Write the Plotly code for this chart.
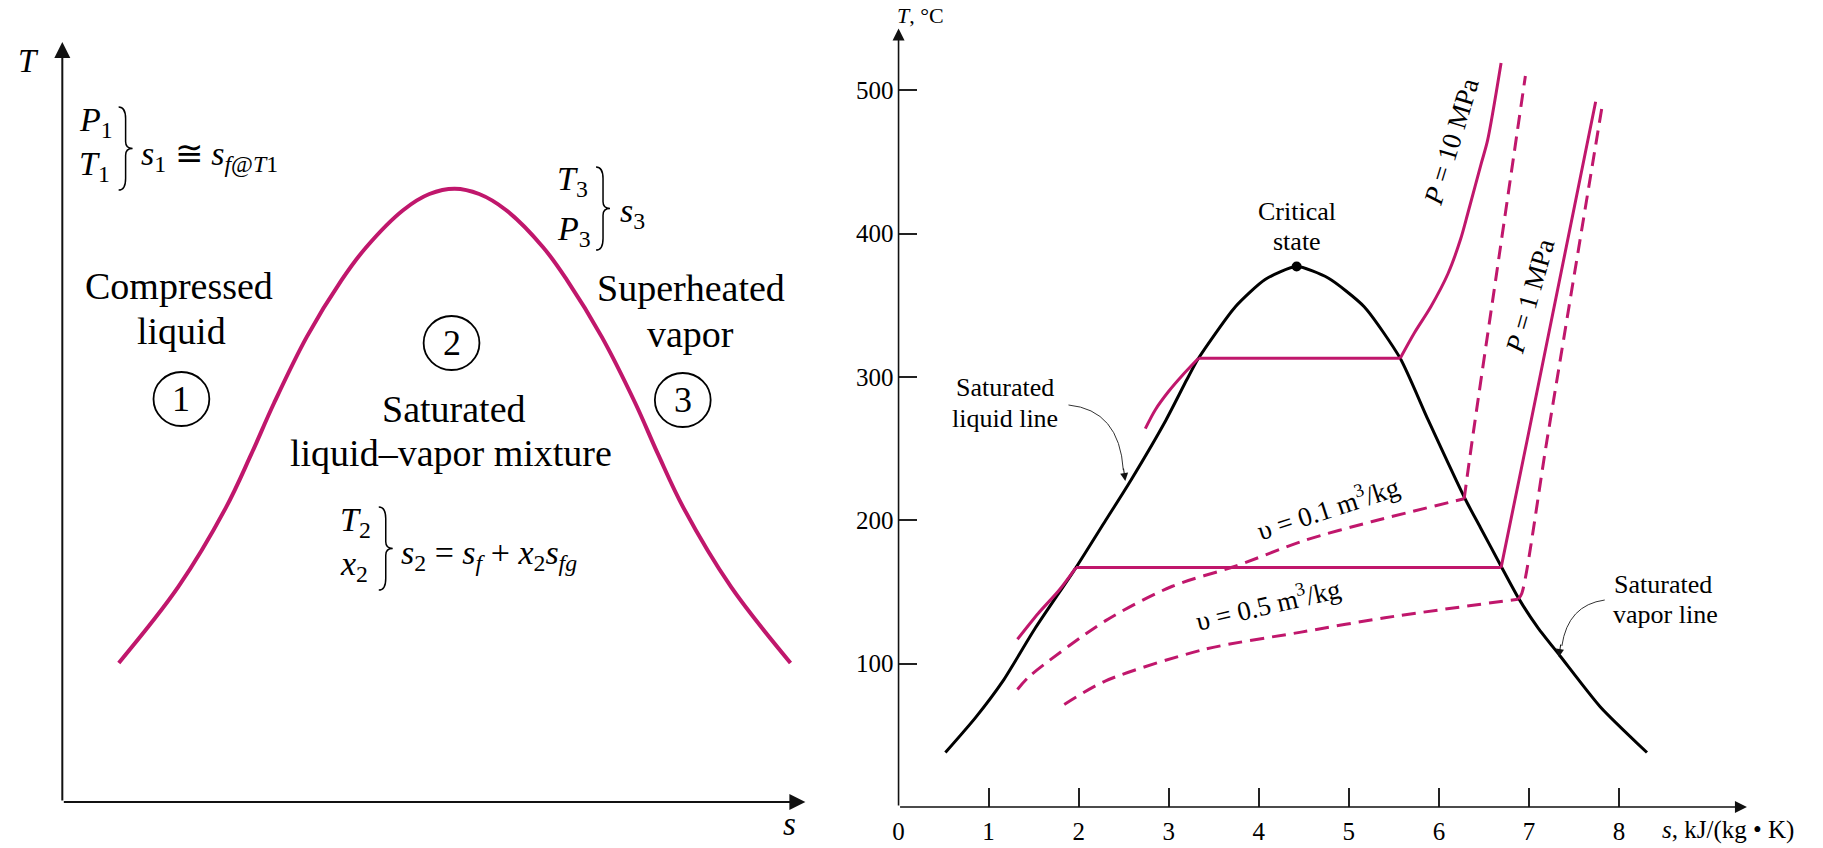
import plotly.graph_objects as go

W, H = 1823, 848
SERIF = "Liberation Serif, Times New Roman, serif"
MAG = "#C0176C"


def px(x):
    return x / W


def py(y):
    return 1 - y / H


# ---- left sketch: generic T-s bell (axis units 0..10) ----
bell_s = [0.76, 1.56, 2.20, 2.54, 2.85, 3.29, 3.76, 4.09, 4.59, 4.94, 5.28,
          5.61, 5.97, 6.47, 6.79, 7.26, 7.71, 8.02, 8.36, 9.00, 9.80]
bell_T = [1.83, 2.83, 3.87, 4.57, 5.25, 6.12, 6.87, 7.30, 7.79, 8.00, 8.07,
          8.00, 7.79, 7.30, 6.87, 6.12, 5.25, 4.57, 3.87, 2.83, 1.83]

# ---- right chart: water T-s diagram ----
dome_s = [0.52, 0.85, 1.16, 1.52, 1.97, 2.30, 2.58, 2.97, 3.20, 3.33, 3.74, 4.07, 4.42,
          4.77, 5.17, 5.57, 5.88, 6.29, 6.46, 6.69, 6.89, 7.10, 7.35, 7.79, 8.31]
dome_T = [38, 62, 88, 125, 167, 200, 228, 270, 298, 313, 349, 368, 377,
          369, 349, 313, 270, 215, 195, 168, 145, 125, 105, 70, 38]
crit_s, crit_T = [4.42], [377]

# isobars (compressed liquid -> saturated mixture -> superheated vapour)
p10_s = [2.74, 2.85, 3.00, 3.15, 3.33, 5.57, 5.73, 5.91, 6.10, 6.24, 6.32, 6.47, 6.54, 6.69]
p10_T = [264, 277, 290, 301, 313, 313, 331, 349, 372, 396, 414, 449, 465, 519]
p10_corners = [4, 5]

p1_s = [1.32, 1.55, 1.78, 1.97, 6.69, 6.98, 7.74]
p1_T = [117, 135, 151, 167, 167, 256, 492]
p1_corners = [3, 4]

# isochores
v01_s = [1.32, 1.45, 2.30, 3.04, 3.74, 4.51, 5.25, 6.28, 6.37, 6.67, 6.96]
v01_T = [82, 91, 130, 154, 168, 186, 199, 215, 256, 385, 510]
v01_corners = [7]

v05_s = [1.84, 2.30, 3.40, 4.47, 5.40, 6.88, 6.92, 7.20, 7.82]
v05_T = [71.5, 88, 110, 122, 132, 145, 149, 256, 492]
v05_corners = [5]

s_ticks = [0, 1, 2, 3, 4, 5, 6, 7, 8]
T_ticks = [100, 200, 300, 400, 500]

fig = go.Figure()
fig.add_trace(go.Scatter(x=bell_s, y=bell_T, mode="lines", line=dict(color=MAG, width=4, shape="spline"),
                         xaxis="x", yaxis="y"))
fig.add_trace(go.Scatter(x=dome_s, y=dome_T, mode="lines", line=dict(color="black", width=3, shape="spline", smoothing=0.6),
                         xaxis="x2", yaxis="y2"))

# each property line is drawn piecewise so the kinks at the dome stay sharp
for xs, ys, corners, dash in [(p10_s, p10_T, p10_corners, "solid"), (p1_s, p1_T, p1_corners, "solid"),
                              (v01_s, v01_T, v01_corners, "14px,8px"), (v05_s, v05_T, v05_corners, "14px,8px")]:
    cuts = [0] + corners + [len(xs) - 1]
    for a, b in zip(cuts[:-1], cuts[1:]):
        fig.add_trace(go.Scatter(x=xs[a:b + 1], y=ys[a:b + 1], mode="lines",
                                 line=dict(color=MAG, width=3, dash=dash, shape="spline", smoothing=0.8),
                                 xaxis="x2", yaxis="y2"))
fig.add_trace(go.Scatter(x=crit_s, y=crit_T, mode="markers", marker=dict(color="black", size=10),
                         xaxis="x2", yaxis="y2"))

ann = []
shapes = []


def text(x, y, t, size, angle=0, xanchor="center"):
    ann.append(dict(x=px(x), y=py(y), xref="paper", yref="paper", text=t, showarrow=False,
                    font=dict(family=SERIF, size=size, color="black"), textangle=angle,
                    xanchor=xanchor, yanchor="middle", borderpad=0))


def brace(x, y0, y1, w=14):
    ym, h = (y0 + y1) / 2, y1 - y0
    m = x + w / 2
    p = lambda a, b: f"{px(a):.5f},{py(b):.5f}"
    path = (f"M {p(x, y0)} Q {p(m, y0)} {p(m, y0 + h * 0.14)} L {p(m, ym - h * 0.08)} "
            f"Q {p(m, ym)} {p(x + w, ym)} Q {p(m, ym)} {p(m, ym + h * 0.08)} "
            f"L {p(m, y1 - h * 0.14)} Q {p(m, y1)} {p(x, y1)}")
    shapes.append(dict(type="path", path=path, xref="paper", yref="paper", line=dict(color="black", width=1.5)))


def circle(cx, cy, label, r=28):
    shapes.append(dict(type="circle", xref="paper", yref="paper", x0=px(cx - r), x1=px(cx + r),
                       y0=py(cy + r - 1), y1=py(cy - r + 1), line=dict(color="black", width=1.8)))
    text(cx, cy, label, 36)


def axis_arrow(xr, yr, x, y, x0, y0, width, size):
    ann.append(dict(x=x, y=y, ax=x0, ay=y0, xref=xr, yref=yr, axref=xr, ayref=yr, text="",
                    showarrow=True, arrowhead=2, arrowwidth=width, arrowsize=size, arrowcolor="#111"))


# axes with arrows
axis_arrow("x", "y", 10, 0, 0, 0, 2, 1.6)
axis_arrow("x", "y", 0, 10, 0, 0, 2, 1.6)
axis_arrow("x2", "y2", 9.42, 0, 0, 0, 1.6, 1.5)
axis_arrow("x2", "y2", 0, 543, 0, 0, 1.6, 1.5)

# left sketch labels
text(23, 61, "<i>T</i>", 33)
text(786, 824, "<i>s</i>", 33)
text(174, 286, "Compressed", 38)
text(176, 331, "liquid", 38)
text(687, 288, "Superheated", 38)
text(687, 334, "vapor", 38)
text(449, 409, "Saturated", 38)
text(446, 453, "liquid\u2013vapor mixture", 38)
circle(176, 399, "1")
circle(447, 343, "2")
circle(679, 400, "3")

text(72, 122, "<i>P</i><sub>1</sub>", 34, xanchor="left")
text(72, 166, "<i>T</i><sub>1</sub>", 34, xanchor="left")
brace(113, 107, 190)
text(134, 156, "<i>s</i><sub>1</sub> \u2245 <i>s</i><sub><i>f</i>@<i>T</i>1</sub>", 34, xanchor="left")

text(552, 181, "<i>T</i><sub>3</sub>", 34, xanchor="left")
text(552, 231, "<i>P</i><sub>3</sub>", 34, xanchor="left")
brace(592, 167, 250)
text(615, 213, "<i>s</i><sub>3</sub>", 34, xanchor="left")

text(334, 522, "<i>T</i><sub>2</sub>", 34, xanchor="left")
text(334, 566, "<i>x</i><sub>2</sub>", 34, xanchor="left")
brace(374, 507, 590)
text(395, 555, "<i>s</i><sub>2</sub> = <i>s<sub>f</sub></i> + <i>x</i><sub>2</sub><i>s<sub>fg</sub></i>", 34,
     xanchor="left")

# right chart labels
text(893, 15, "<i>T</i>, \u00b0C", 22, xanchor="left")
text(1660, 830, "<i>s</i>, kJ/(kg \u2022 K)", 25, xanchor="left")
text(1295, 211, "Critical", 26)
text(1295, 241, "state", 26)
text(1002, 387, "Saturated", 26)
text(1002, 418, "liquid line", 26)
text(1662, 584, "Saturated", 26)
text(1665, 614, "vapor line", 26)
text(1326, 507, "\u03c5 = 0.1 m<sup>3</sup>/kg", 27, angle=-18)
text(1266, 603, "\u03c5 = 0.5 m<sup>3</sup>/kg", 27, angle=-13)
text(1450, 142, "<i>P</i> = 10 MPa", 27, angle=-73)
text(1529, 296, "<i>P</i> = 1 MPa", 27, angle=-74)

# pointer arrows for saturated lines
shapes.append(dict(type="path", xref="paper", yref="paper", line=dict(color="#333", width=1),
                   path=f"M {px(1066):.5f},{py(405):.5f} Q {px(1117):.5f},{py(410):.5f} {px(1121):.5f},{py(470):.5f}"))
ann.append(dict(x=px(1123), y=py(481), xref="paper", yref="paper", ax=-2, ay=-14, text="", showarrow=True,
                arrowhead=2, arrowwidth=1, arrowsize=1.6, arrowcolor="#111"))
shapes.append(dict(type="path", xref="paper", yref="paper", line=dict(color="#333", width=1),
                   path=f"M {px(1604):.5f},{py(600):.5f} Q {px(1567):.5f},{py(605):.5f} {px(1561):.5f},{py(646):.5f}"))
ann.append(dict(x=px(1558), y=py(657), xref="paper", yref="paper", ax=2, ay=-14, text="", showarrow=True,
                arrowhead=2, arrowwidth=1, arrowsize=1.6, arrowcolor="#111"))

tickfont = dict(family=SERIF, size=25, color="black")
fig.update_layout(
    width=W, height=H, margin=dict(l=0, r=0, t=0, b=0),
    plot_bgcolor="white", paper_bgcolor="white", showlegend=False,
    xaxis=dict(domain=[px(56.5), px(802)], range=[0, 10], visible=False),
    yaxis=dict(domain=[py(802), py(42)], range=[0, 10], visible=False),
    xaxis2=dict(domain=[px(895.5), px(1746.7)], range=[0, 9.42], anchor="y2",
                tickvals=s_ticks, ticks="inside", ticklen=19, tickwidth=1.5, tickcolor="#222",
                showgrid=False, zeroline=False, showline=False, tickfont=tickfont, ticklabelstandoff=7),
    yaxis2=dict(domain=[py(807), py(20)], range=[0, 549], anchor="x2",
                tickvals=T_ticks, ticks="inside", ticklen=18, tickwidth=1.5, tickcolor="#222",
                showgrid=False, zeroline=False, showline=False, tickfont=tickfont, ticklabelstandoff=4),
    annotations=ann, shapes=shapes,
)

fig.write_html("out.html", config={"displayModeBar": False},
               post_script="document.body.style.margin='0';")
